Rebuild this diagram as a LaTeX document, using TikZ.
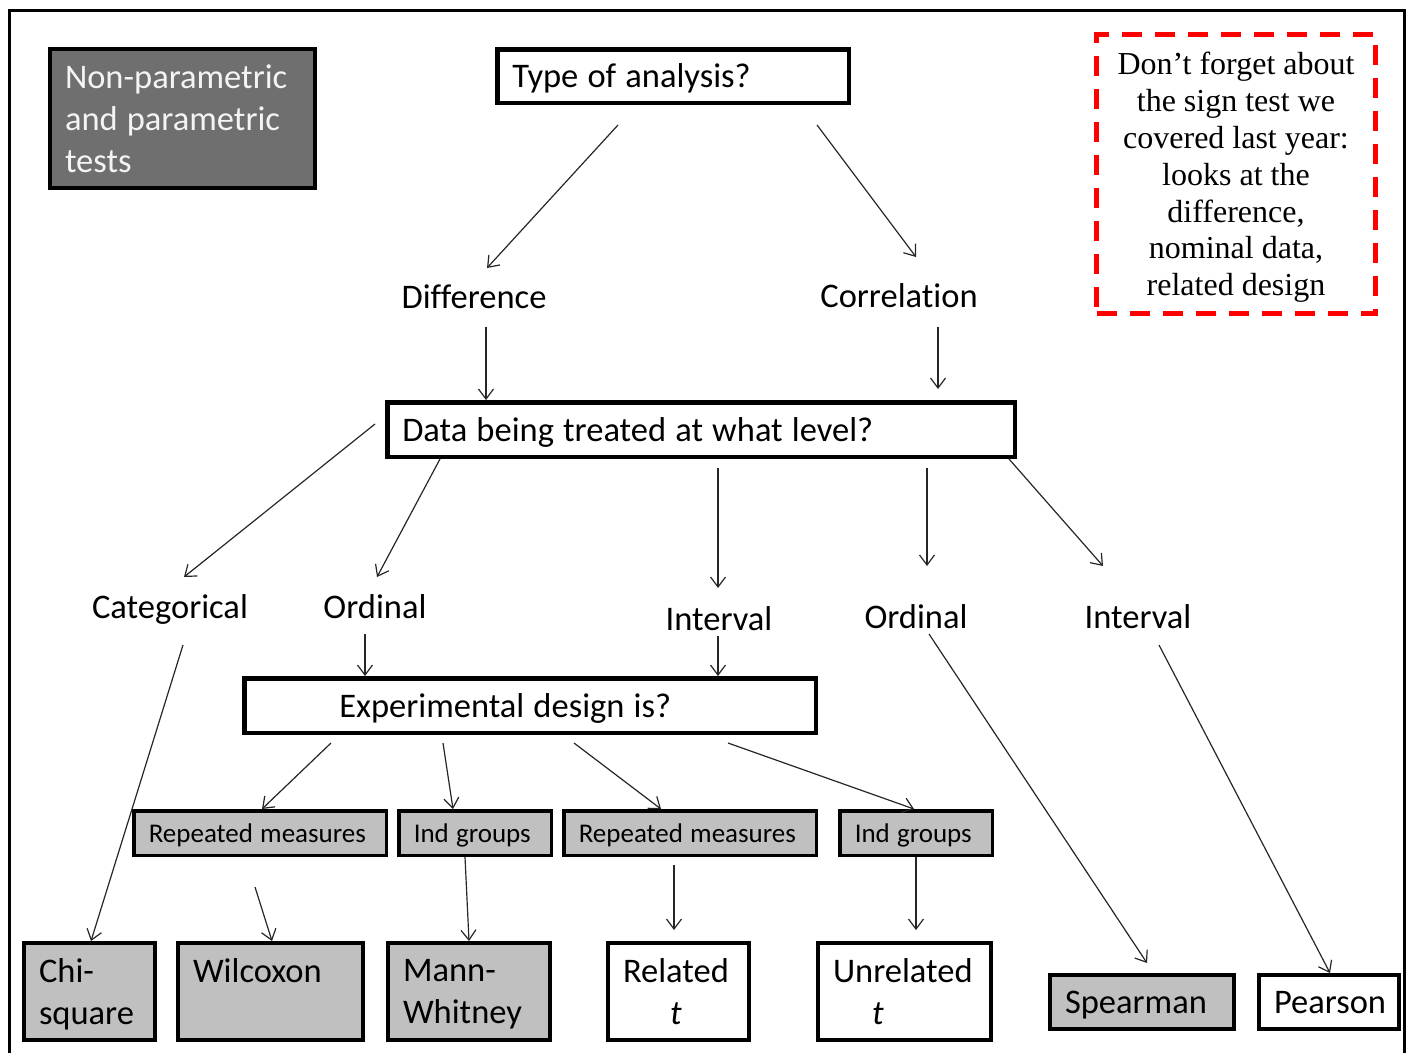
\documentclass[tikz,border=0pt]{standalone}
\usepackage{fontspec}
\setmainfont[Ligatures=NoCommon]{Carlito}
\newfontfamily\notefont{Liberation Serif}
\usetikzlibrary{arrows.meta}

\definecolor{darkgrey}{HTML}{6F6F6F}
\definecolor{testgrey}{HTML}{C0C0C0}
\definecolor{notered}{HTML}{FF0000}
\definecolor{offwhite}{HTML}{F4F4F4}

\newcommand\bigfs{\fontsize{34.5}{42}\selectfont}
\newcommand\smallfs{\fontsize{27}{32}\selectfont}
\newcommand\notefs{\notefont\fontsize{32}{36.8}\selectfont}

\tikzset{
  frameline/.style={line width=3pt},
  natspace/.style={execute at begin node={\spaceskip=0.265em\xspaceskip=0.265em\relax}},
  qbox/.style={draw, line width=4.5pt, fill=white, inner xsep=15pt, inner ysep=0pt, align=left, natspace, font=\bigfs, text height=23pt, text depth=0pt},
  darkbox/.style={draw, line width=4pt, fill=darkgrey, text=offwhite, inner xsep=15pt, inner ysep=0pt, align=left, natspace, font=\bigfs},
  designbox/.style={draw, line width=3.5pt, fill=testgrey, inner xsep=15pt, inner ysep=0pt, align=left, natspace, font=\smallfs, minimum height=44.5pt, text height=18pt, text depth=0pt},
  testbox/.style={draw, line width=4pt, fill=testgrey, inner xsep=15pt, inner ysep=0pt, align=left, natspace, font=\bigfs, minimum height=97pt},
  lvl/.style={font=\bigfs, inner sep=0pt, text height=22pt, text depth=0pt},
  notebox/.style={draw=notered, line width=5pt, dash pattern=on 20pt off 13pt, align=center, font=\notefs, minimum width=279pt, minimum height=279pt},
  arr/.style={line width=1.2pt, draw=black!85, -{Straight Barb[length=10pt,width=15pt]}}
}

\begin{document}
\begin{tikzpicture}[x=1pt, y=-1pt]
  \useasboundingbox (0,0) rectangle (1413,1053);
  \draw[frameline] (9,1053) -- (9,10) -- (1404,10) -- (1404,1053);

  % top part
  \node[darkbox, text width=235pt, minimum height=139pt] (kind) at (182.5,118.5) {Non-parametric\\and parametric\\tests};
  \node[qbox, text width=321.5pt, minimum height=53.5pt] (type) at (673,76) {Type of analysis?};
  \node[notebox] (note) at (1236,174) {Don’t forget about\\the sign test we\\covered last year:\\looks at the\\difference,\\nominal data,\\\smash{related design}};
  \node[lvl] (diff) at (474,297) {Difference};
  \node[lvl] (corr) at (899,296) {Correlation};

  % level of data
  \node[qbox, text width=597.5pt, minimum height=54.5pt] (data) at (701,429.5) {Data being treated at what level?};
  \node[lvl] (cat) at (170,607) {Categorical};
  \node[lvl] (ordA) at (375,607) {Ordinal};
  \node[lvl] (intA) at (719,619) {Interval};
  \node[lvl] (ordB) at (916,617) {Ordinal};
  \node[lvl] (intB) at (1138,617) {Interval};

  % design
  \node[qbox, text width=541.5pt, minimum height=54.5pt] (exp) at (530,705.5) {\hspace*{80pt}Experimental design is?};
  \node[designbox, text width=222.5pt] (rmA) at (260,833) {Repeated measures};
  \node[designbox, text width=122.5pt] (igA) at (475,833) {Ind groups};
  \node[designbox, text width=222.5pt] (rmB) at (690,833) {Repeated measures};
  \node[designbox, text width=122.5pt] (igB) at (916,833) {Ind groups};

  % tests
  \node[testbox, text width=101pt] (chi) at (89.5,991.5) {Chi-\\\smash{square}};
  \node[testbox, text width=155pt] (wil) at (270.5,991.5) {Wilcoxon\\\mbox{}};
  \node[testbox, text width=132pt] (mw) at (469,991.5) {Mann-\\\smash{Whitney}};
  \node[testbox, fill=white, text width=111pt] (rel) at (678.5,991.5) {Related\\\hspace*{47pt}\textit{t}};
  \node[testbox, fill=white, text width=143pt] (unrel) at (904.5,991.5) {Unrelated\\\hspace*{39pt}\textit{t}};
  \node[testbox, text width=154pt, minimum height=54pt, text height=22pt, text depth=0pt] (spear) at (1142,1002) {Spearman};
  \node[testbox, fill=white, text width=110pt, minimum height=54pt, text height=22pt, text depth=0pt] (pear) at (1329,1002) {Pearson};

  % free arrow ends
  \coordinate (typeL) at (618,125);  \coordinate (diffT) at (487,268);
  \coordinate (typeR) at (817,125);  \coordinate (corrT) at (916,257);
  \coordinate (diffB) at (486,327);
  \coordinate (corrB) at (938,327);  \coordinate (dataTR) at (938,389);
  \coordinate (dataL) at (375,424);  \coordinate (catT) at (184,577);
  \coordinate (ordAT) at (377,577);
  \coordinate (dataM) at (718,468);  \coordinate (intAT) at (718,588);
  \coordinate (dataN) at (927,468);  \coordinate (ordBT) at (927,566);
  \coordinate (intBT) at (1103,566);
  \coordinate (ordAB) at (365,634);  \coordinate (intAB) at (718,636);
  \coordinate (catB) at (183,645);
  \coordinate (ordBB) at (929,634);  \coordinate (spearT) at (1147,963);
  \coordinate (intBB) at (1159,645);
  \coordinate (expA) at (331,743);   \coordinate (expB) at (443,743);
  \coordinate (expC) at (574,743);   \coordinate (expD) at (728,743);
  \coordinate (wilT) at (255,887);
  \coordinate (relB) at (674,865);   \coordinate (relT) at (674,930);
  \coordinate (unrelT) at (916,930);

  % connectors
  \draw[arr] (typeL) -- (diffT);
  \draw[arr] (typeR) -- (corrT);
  \draw[arr] (diffB) -- ([xshift=-215pt]data.north);
  \draw[arr] (corrB) -- (dataTR);
  \draw[arr] (dataL) -- (catT);
  \draw[arr] ([xshift=-261pt]data.south) -- (ordAT);
  \draw[arr] (dataM) -- (intAT);
  \draw[arr] (dataN) -- (ordBT);
  \draw[arr] ([xshift=-8pt]data.south east) -- (intBT);
  \draw[arr] (ordAB) -- ([xshift=-165pt]exp.north);
  \draw[arr] (intAB) -- ([xshift=188pt]exp.north);
  \draw[arr] (catB) -- ([xshift=1.5pt]chi.north);
  \draw[arr] (ordBB) -- (spearT);
  \draw[arr] (intBB) -- ([xshift=1pt]pear.north);
  \draw[arr] (expA) -- ([xshift=2pt]rmA.north);
  \draw[arr] (expB) -- ([xshift=-22pt]igA.north);
  \draw[arr] (expC) -- ([xshift=-29pt]rmB.north);
  \draw[arr] (expD) -- ([xshift=-2pt]igB.north);
  \draw[arr] (wilT) -- ([xshift=1.5pt]wil.north);
  \draw[arr] ([xshift=-10pt]igA.south) -- (mw.north);
  \draw[arr] (relB) -- (relT);
  \draw[arr] (igB.south) -- (unrelT);
\end{tikzpicture}
\end{document}
